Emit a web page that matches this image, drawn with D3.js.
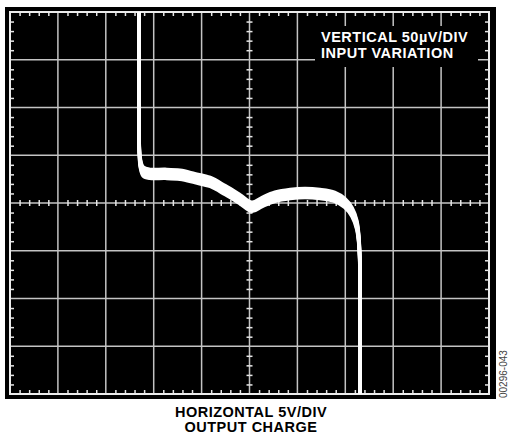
<!DOCTYPE html>
<html>
  <head>
    <meta charset="utf-8">
    <title>Input Variation vs Output Charge</title>
    <script src="https://d3js.org/d3.v7.min.js"></script>
    <style>
      body { margin: 0; background: #fff; }
      .minor .domain { display: none; }
      .minor line { stroke: #e6e6e6; stroke-width: 1.5; }
      .grid line { stroke: #c4c4c4; stroke-width: 1.5; }
    </style>
  </head>
  <body>
    <div id="chart"></div>
    <script>

      // scope screen: 10 divisions across, 8 divisions down (center = 0)
      const xDivs = d3.range(0, 11);
      const yDivs = d3.range(-4, 5);
      const minorX = d3.range(0, 50).map(i => i / 5).filter(v => v % 1 !== 0);
      const minorY = d3.range(-20, 20).map(i => i / 5).filter(v => v % 1 !== 0);

      // trace, in divisions
      const traceX = [2.69, 2.69, 2.70, 2.72, 2.78, 2.92, 3.24, 3.55, 3.86, 4.18, 4.49, 4.80, 5.05,
                      5.26, 5.53, 5.85, 6.16, 6.47, 6.78, 6.99, 7.14, 7.24, 7.29, 7.31, 7.31];
      const traceY = [4.2, 2.0, 1.11, 0.84, 0.66, 0.61, 0.61, 0.59, 0.52, 0.44, 0.27, 0.08, -0.08,
                      0.02, 0.13, 0.19, 0.21, 0.19, 0.13, 0.0, -0.19, -0.46, -0.88, -2.03, -4.2];
      // vertical noise spread of the trace, in pixels
      const bandOffsets = [-4.5, -3, -1.5, 0, 1.5, 3, 4.5];

      const boxLabels = ["VERTICAL 50\u00b5V/DIV", "INPUT VARIATION"];
      const axisLabels = ["HORIZONTAL 5V/DIV", "OUTPUT CHARGE"];
      const figId = "00296-043";

      const width = 509, height = 441;
      const svg = d3.select("#chart").append("svg")
          .attr("width", width)
          .attr("height", height);

      const x = d3.scaleLinear().domain([0, 10]).range([10, 489]);
      const y = d3.scaleLinear().domain([-4, 4]).range([394, 12]);

      // black screen
      svg.append("rect")
          .attr("x", 5).attr("y", 7)
          .attr("width", 491).attr("height", 392)
          .attr("fill", "#000");

      // main grid
      const grid = svg.append("g").attr("class", "grid");
      grid.selectAll(".vx").data(xDivs.slice(1, -1)).enter().append("line")
          .attr("x1", d => x(d)).attr("x2", d => x(d))
          .attr("y1", y(4)).attr("y2", y(-4));
      grid.selectAll(".hy").data(yDivs.slice(1, -1)).enter().append("line")
          .attr("x1", x(0)).attr("x2", x(10))
          .attr("y1", d => y(d)).attr("y2", d => y(d));

      // minor ticks on the border
      const tickLen = 4;
      svg.append("g").attr("class", "minor")
          .attr("transform", `translate(0,${y(4)})`)
          .call(d3.axisTop(x).tickValues(minorX).tickSize(-tickLen).tickFormat(""));
      svg.append("g").attr("class", "minor")
          .attr("transform", `translate(0,${y(-4)})`)
          .call(d3.axisBottom(x).tickValues(minorX).tickSize(-tickLen).tickFormat(""));
      svg.append("g").attr("class", "minor")
          .attr("transform", `translate(${x(0)},0)`)
          .call(d3.axisLeft(y).tickValues(minorY).tickSize(-tickLen).tickFormat(""));
      svg.append("g").attr("class", "minor")
          .attr("transform", `translate(${x(10)},0)`)
          .call(d3.axisRight(y).tickValues(minorY).tickSize(-tickLen).tickFormat(""));

      // minor ticks on the center axes (both sides)
      [d3.axisTop, d3.axisBottom].forEach(ax => {
        svg.append("g").attr("class", "minor")
            .attr("transform", `translate(0,${y(0)})`)
            .call(ax(x).tickValues(minorX).tickSize(3).tickFormat(""));
      });
      [d3.axisLeft, d3.axisRight].forEach(ax => {
        svg.append("g").attr("class", "minor")
            .attr("transform", `translate(${x(5)},0)`)
            .call(ax(y).tickValues(minorY).tickSize(3).tickFormat(""));
      });

      // border
      svg.append("rect")
          .attr("x", x(0)).attr("y", y(4))
          .attr("width", x(10) - x(0)).attr("height", y(-4) - y(4))
          .attr("fill", "none")
          .attr("stroke", "#ececec")
          .attr("stroke-width", 2);

      // label box
      svg.append("rect")
          .attr("x", 315).attr("y", 26)
          .attr("width", 163).attr("height", 41)
          .attr("fill", "#000");
      svg.selectAll(".boxlabel").data(boxLabels).enter().append("text")
          .attr("x", 321)
          .attr("y", (d, i) => 42 + i * 16)
          .attr("fill", "#fff")
          .attr("font-family", "Liberation Sans, Arial, sans-serif")
          .attr("font-weight", "bold")
          .attr("font-size", "14.5px")
          .attr("letter-spacing", "0.5px")
          .text(d => d);

      // trace
      svg.append("clipPath").attr("id", "screen")
        .append("rect")
          .attr("x", x(0)).attr("y", y(4))
          .attr("width", x(10) - x(0)).attr("height", y(-4) - y(4));

      const line = d3.line()
          .x(d => x(d[0]))
          .y(d => y(d[1]))
          .curve(d3.curveCatmullRom.alpha(0.5));
      const pts = traceX.map((v, i) => [v, traceY[i]]);

      svg.append("g").attr("clip-path", "url(#screen)")
        .selectAll("path").data(bandOffsets).enter().append("path")
          .attr("transform", d => `translate(0,${d})`)
          .attr("d", line(pts))
          .attr("fill", "none")
          .attr("stroke", "#fff")
          .attr("stroke-width", 3.5)
          .attr("stroke-linejoin", "round");

      // axis captions
      svg.selectAll(".caption").data(axisLabels).enter().append("text")
          .attr("x", 251)
          .attr("y", (d, i) => 417 + i * 15)
          .attr("text-anchor", "middle")
          .attr("fill", "#000")
          .attr("font-family", "Liberation Sans, Arial, sans-serif")
          .attr("font-weight", "bold")
          .attr("font-size", "14.5px")
          .attr("letter-spacing", "0.5px")
          .text(d => d);

      svg.append("text")
          .attr("transform", "translate(507,398) rotate(-90)")
          .attr("fill", "#444")
          .attr("font-family", "Liberation Sans, Arial, sans-serif")
          .attr("font-size", "10px")
          .text(figId);

    </script>
  </body>
</html>
